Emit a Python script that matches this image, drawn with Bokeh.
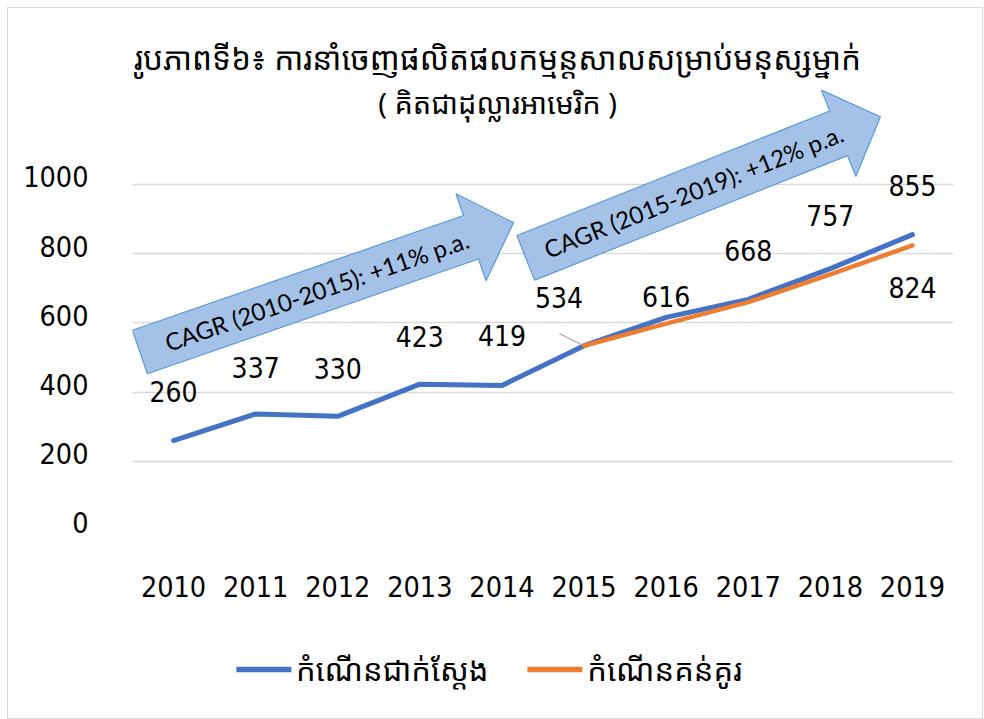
import math
from bokeh.plotting import figure
from bokeh.layouts import column
from bokeh.models import ColumnDataSource, FixedTicker, Legend, LegendItem, Label, Range1d, LinearAxis
from bokeh.core.properties import value
from bokeh.embed import file_html
from bokeh.resources import INLINE

# ---------------- data ----------------
years = [2010, 2011, 2012, 2013, 2014, 2015, 2016, 2017, 2018, 2019]
actual = [260, 337, 330, 423, 419, 534, 616, 668, 757, 855]
target_years = [2015, 2016, 2017, 2018, 2019]
target = [534, 598, 660, 740, 824]
y_ticks = [0, 200, 400, 600, 800, 1000]
year_labels = [str(y) for y in years]

title_line1 = "រូបភាពទី៦៖ ការនាំចេញផលិតផលកម្មន្តសាលសម្រាប់មនុស្សម្នាក់"
title_line2 = "( គិតជាដុល្លារអាមេរិក )"
legend_actual = "កំណើនជាក់ស្តែង"
legend_target = "កំណើនគន់គូរ"

cagr_texts = ["CAGR (2010-2015): +11% p.a.", "CAGR (2015-2019): +12% p.a."]
# arrow anchors (year, value) for tail centre and tip
arrow_tail = [(2009.59, 516), (2014.29, 788)]
arrow_tip = [(2014.141, 890), (2018.61, 1196)]

# label pixel offsets (style)
lab_dx = [0, 0, 0, 0, 0, -25, 0, 0, 0, 0]
lab_dy = [-49, -46, -48, -48, -50, -48, -21, -49, -53, -49]

# ---------------- layout ----------------
W = 974
HP, HL = 612, 98            # main figure / legend strip heights
ML, MR = 124, 29
FH = 522                    # frame height (frame top at figure top)
MB = HP - FH
FW = W - ML - MR
X0, X1 = 2009.5, 2019.5
PXX = FW / (X1 - X0)
PXY = 346.0 / 1000.0
Y1 = FH / PXY
LABEL_LIFT = 22             # tick labels sit slightly above their gridlines (value units)

KH_S = "Noto Sans Khmer, Khmer OS, Noto Sans"
NUM_S = "DejaVu Sans Condensed"
NUM = value(NUM_S)
LAT = value("Lato")

p = figure(width=W, height=HP, output_backend="svg", toolbar_location=None,
           x_range=Range1d(X0, X1), y_range=Range1d(0, Y1), y_axis_location=None,
           min_border_left=ML, min_border_right=MR, min_border_top=0, min_border_bottom=MB)
p.extra_y_ranges = {"lab": Range1d(-LABEL_LIFT, Y1 - LABEL_LIFT)}
p.outline_line_color = None
p.background_fill_color = "white"
p.border_fill_color = "white"

p.xgrid.visible = False
p.ygrid.ticker = FixedTicker(ticks=y_ticks)
p.ygrid.grid_line_color = "#d9d9d9"
p.ygrid.grid_line_width = 1.3

yax = LinearAxis(y_range_name="lab", ticker=FixedTicker(ticks=y_ticks))
p.add_layout(yax, "left")

for ax in (p.xaxis[0], yax):
    ax.axis_line_color = None
    ax.major_tick_line_color = None
    ax.minor_tick_line_color = None
    ax.major_tick_out = 0
    ax.major_tick_in = 0
    ax.major_label_text_color = "#000000"
    ax.major_label_text_font = NUM_S
yax.major_label_text_font_size = "28.5px"
yax.major_label_standoff = 44
p.xaxis.ticker = FixedTicker(ticks=years)
p.xaxis.major_label_overrides = {y: s for y, s in zip(years, year_labels)}
p.xaxis.major_label_text_font_size = "28.5px"
p.xaxis.major_label_standoff = 45


def to_px(x, y):
    return ((x - X0) * PXX, y * PXY)


def to_data(px, py):
    return (px / PXX + X0, py / PXY)


def arrow(tail, tip, shaft, head, head_len):
    tx, ty = to_px(*tail)
    hx, hy = to_px(*tip)
    dx, dy = hx - tx, hy - ty
    L = math.hypot(dx, dy)
    ux, uy = dx / L, dy / L
    nx, ny = -uy, ux
    b = L - head_len
    pts = [
        (tx + nx * shaft / 2, ty + ny * shaft / 2),
        (tx + ux * b + nx * shaft / 2, ty + uy * b + ny * shaft / 2),
        (tx + ux * b + nx * head / 2, ty + uy * b + ny * head / 2),
        (hx, hy),
        (tx + ux * b - nx * head / 2, ty + uy * b - ny * head / 2),
        (tx + ux * b - nx * shaft / 2, ty + uy * b - ny * shaft / 2),
        (tx - nx * shaft / 2, ty - ny * shaft / 2),
    ]
    d = [to_data(a, c) for a, c in pts]
    cx, cy = to_data(tx + ux * 0.473 * L, ty + uy * 0.473 * L)
    return [q[0] for q in d], [q[1] for q in d], math.atan2(dy, dx), cx, cy


axs, ays, angs, tcx, tcy = [], [], [], [], []
for (tl, tp, sw, hw) in zip(arrow_tail, arrow_tip, [46, 48], [92, 93]):
    xs, ys, a, cx, cy = arrow(tl, tp, sw, hw, 45)
    axs.append(xs); ays.append(ys); angs.append(a); tcx.append(cx); tcy.append(cy)

p.patches(axs, ays, fill_color="#a4c2e7", line_color="#5b9bd5", line_width=1.2)
p.text(x=tcx, y=tcy, text=cagr_texts, angle=angs, text_align="center", text_baseline="middle",
       text_font=LAT, text_font_size="24px", text_color="#000000")

# lines
r_act = p.line(years, actual, line_color="#4472c4", line_width=5, line_cap="round", line_join="round")
r_tgt = p.line(target_years, target, line_color="#ed7d31", line_width=4.5, line_cap="round", line_join="round")

# leader line for 2015 label
i15 = years.index(2015)
px15, py15 = to_px(years[i15], actual[i15])
lx0, ly0 = to_data(px15 - 24.7, py15 + 12.3)
lx1, ly1 = to_data(px15 - 2.3, py15 + 1)
p.segment(x0=[lx0], y0=[ly0], x1=[lx1], y1=[ly1], line_color="#a6a6a6", line_width=1.2)

# data labels
src = ColumnDataSource(dict(x=years, y=actual, t=[str(v) for v in actual], dx=lab_dx, dy=lab_dy))
p.text(x="x", y="y", text="t", x_offset="dx", y_offset="dy", source=src,
       text_align="center", text_baseline="middle", text_font=NUM, text_font_size="28px",
       text_color="#000000")
p.text(x=[target_years[-1]], y=[target[-1]], text=[str(target[-1])], y_offset=[42],
       text_align="center", text_baseline="middle", text_font=NUM, text_font_size="28px",
       text_color="#000000")

# titles (inside the frame, which reaches the top of the figure)
cx_t = W / 2 + 2 - ML
p.add_layout(Label(x=cx_t, y=FH - 49, x_units="screen", y_units="screen", text=title_line1,
                   text_align="center", text_baseline="middle", text_font=KH_S, text_font_size="31.5px",
                   text_color="#000000"))
p.add_layout(Label(x=cx_t, y=FH - 94, x_units="screen", y_units="screen", text=title_line2,
                   text_align="center", text_baseline="middle", text_font=KH_S, text_font_size="29px",
                   text_color="#000000"))

# legend strip (its frame is aligned with the main frame by the column layout;
# swatches use renderers whose data lie outside the strip's range)
p2 = figure(width=W, height=HL, output_backend="svg", toolbar_location=None,
            x_range=Range1d(0, 1), y_range=Range1d(0, 1),
            min_border_left=0, min_border_right=0, min_border_top=0, min_border_bottom=0,
            x_axis_location=None, y_axis_location=None)
p2.grid.visible = False
p2.outline_line_color = None
p2.background_fill_color = "white"
p2.border_fill_color = "white"
g_act = p2.line(x=[5, 6], y=[5, 6], line_color="#4472c4", line_width=5.5, line_cap="round")
g_tgt = p2.line(x=[5, 6], y=[5, 6], line_color="#ed7d31", line_width=5.5, line_cap="round")

legend = Legend(items=[LegendItem(label=legend_actual, renderers=[g_act]),
                       LegendItem(label=legend_target, renderers=[g_tgt])],
                orientation="horizontal", location="center")
legend.glyph_width = 55
legend.glyph_height = 20
legend.label_standoff = 5
legend.spacing = 39
legend.padding = 0
legend.margin = 0
# an empty title on the right widens the box so the items sit centred on the whole chart
legend.title = "\u00a0"
legend.title_location = "right"
legend.title_standoff = 92
legend.title_text_font_size = "13px"
legend.border_line_color = None
legend.background_fill_alpha = 0
legend.label_text_font = KH_S
legend.label_text_font_size = "31px"
legend.label_text_color = "#000000"
p2.add_layout(legend, "center")

layout = column(p, p2, spacing=0,
                styles={"margin": "7px 0px 0px 7px", "border": "1px solid #d9d9d9"})

open("out.html", "w").write(file_html(layout, INLINE))
